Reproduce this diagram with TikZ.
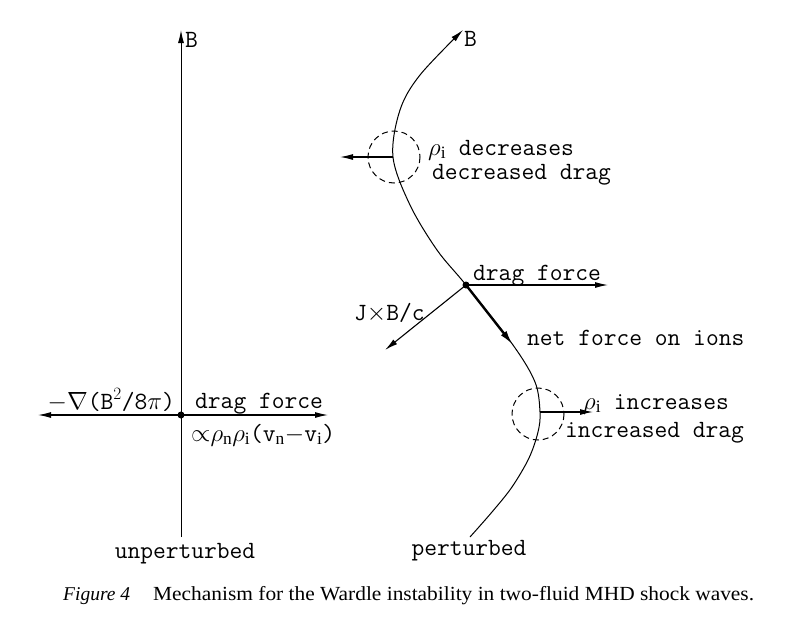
\documentclass[tikz,border=0pt]{standalone}
\usepackage{fontspec}
\setmainfont{Liberation Serif}
\newfontfamily\capwide[FakeStretch=1.07]{Liberation Serif}
\usetikzlibrary{arrows.meta}
\begin{document}
\begin{tikzpicture}[x=1pt,y=-1pt,
  lbl/.style={font=\fontsize{24.8}{28}\selectfont\ttfamily, inner sep=0pt},
  captext/.style={font=\fontsize{20}{24}\selectfont, inner sep=0pt},
  vec/.style={line width=1.1pt, -{Latex[length=13pt,width=6pt]}},
  netvec/.style={line width=2.4pt, -{Latex[length=15pt,width=7pt]}},
  fieldline/.style={line width=1pt},
  zone/.style={line width=1pt, dash pattern=on 6pt off 4pt}]
\useasboundingbox (0,0) rectangle (796,627);
% ---------- left: unperturbed ----------
\coordinate (L0) at (181,415);
\coordinate (Lbot) at (181,537);
\coordinate (Ltop) at (181,30);
\coordinate (Lleft) at (38,415);
\coordinate (Lright) at (328,415);
\draw[fieldline, -{Latex[length=13pt,width=6pt]}] (Lbot) -- (Ltop);
\draw[vec] (L0) -- (Lleft);
\draw[vec] (L0) -- (Lright);
\fill (L0) circle (3.5);
\node[lbl, anchor=base west] (LB) at (185,47) {B};
\node[lbl, anchor=base east] (Lgrad) at (175,409) {$-\nabla$(B$^{2}$/8$\pi$)};
\node[lbl, anchor=base west] (Ldrag) at (195,408) {drag force};
\node[lbl, anchor=base west] (Lprop) at (191,441) {$\mathord{\propto}\rho_{\mathrm{n}}\rho_{\mathrm{i}}$(v$_{\mathrm{n}}$$-$v$_{\mathrm{i}}$)};
\node[lbl, anchor=base] (Lun) at (185,558) {unperturbed};
% ---------- right: perturbed ----------
\coordinate (R0) at (466,285);
\coordinate (Rup) at (393,157);
\coordinate (Rlo) at (540,412);
\draw[fieldline, -{Latex[length=13pt,width=6pt]}] plot[smooth, tension=0.55] coordinates
  {(470,537) (492,512) (512,487) (529,458) (538,432) (540,412) (535,382) (513,345) (466,285) (437,250) (410,205) (393,157) (400,110) (420,75) (463,30)};
\node[lbl, anchor=base west] (RB) at (464,46) {B};
\draw[zone] (394,157) circle (26);
\coordinate (RupL) at (340,157);
\draw[vec] (Rup) -- (RupL);
\node[lbl, anchor=base west] (Rdec1) at (428,155) {$\rho_{\mathrm{i}}$ decreases};
\node[lbl, anchor=base west] (Rdec2) at (432,179) {decreased drag};
\coordinate (Rdrag) at (608,285);
\draw[vec] (R0) -- (Rdrag);
\node[lbl, anchor=base west] (Rdragl) at (473,280) {drag force};
\coordinate (RJ) at (385,350);
\draw[vec] (R0) -- (RJ);
\node[lbl, anchor=base west] (RJl) at (354,320) {J$\times$B/c};
\coordinate (Rnet) at (513,345);
\draw[netvec] (R0) -- (Rnet);
\node[lbl, anchor=base west] (Rnetl) at (527,345) {net force on ions};
\fill (R0) circle (3.5);
\draw[zone] (538,414) circle (26);
\coordinate (RloR) at (593,412);
\draw[vec] (Rlo) -- (RloR);
\node[lbl, anchor=base west] (Rinc1) at (583,409) {$\rho_{\mathrm{i}}$ increases};
\node[lbl, anchor=base west] (Rinc2) at (565,437) {increased drag};
\node[lbl, anchor=base] (Rper) at (469,555) {perturbed};
% ---------- caption ----------
\node[captext, anchor=base west, font=\fontsize{19.5}{24}\selectfont] (capA) at (63,600) {\itshape Figure 4};
\node[captext, anchor=base west] (capB) at (153,600) {\capwide Mechanism for the Wardle instability in two-fluid MHD shock waves.};
\end{tikzpicture}
\end{document}
